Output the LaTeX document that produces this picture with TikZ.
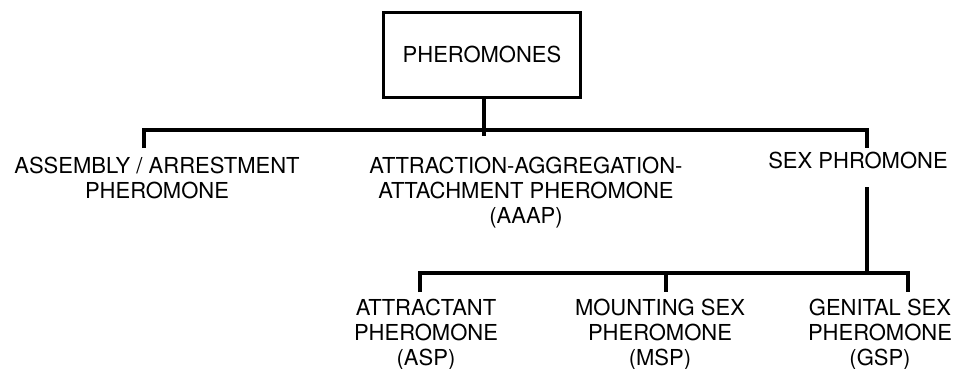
\documentclass[tikz,border=0pt]{standalone}
\usepackage{fontspec}
\setmainfont{TeX Gyre Heros}
\tikzset{
  lbl/.style={align=center, inner sep=0pt, anchor=base, font=\fontsize{22}{25}\selectfont},
  rootbox/.style={draw, line width=3pt, minimum width=197pt, minimum height=85pt, inner sep=0pt, font=\fontsize{22}{25}\selectfont},
  link/.style={line width=3.2pt}
}
\begin{document}
\begin{tikzpicture}[x=1pt,y=-1pt]
\useasboundingbox (0,0) rectangle (956,368);
% root
\node[rootbox] (root) at (482,54.5) {PHEROMONES};
% first level labels (base anchor = baseline of last line)
\node[lbl] (asm) at (157,198) {ASSEMBLY / ARRESTMENT\\PHEROMONE};
\node[lbl] (aaap) at (526,223) {ATTRACTION-AGGREGATION-\\ATTACHMENT PHEROMONE\\(AAAP)};
\node[lbl] (sex) at (858,168) {SEX PHROMONE};
% second level labels
\node[lbl] (asp) at (426,365) {ATTRACTANT\\PHEROMONE\\(ASP)};
\node[lbl] (msp) at (660,365) {MOUNTING SEX\\PHEROMONE\\(MSP)};
\node[lbl] (gsp) at (880,365) {GENITAL SEX\\PHEROMONE\\(GSP)};
% junction coordinates
\coordinate (j0) at (484,130);
\coordinate (s0) at (484,136);
\coordinate (b1) at (144,130);
\coordinate (d1) at (144,148);
\coordinate (b3) at (867,130);
\coordinate (d3) at (867,148);
\coordinate (sx) at (867,187);
\coordinate (j2) at (867,273);
\coordinate (c1) at (420,273);
\coordinate (e1) at (420,292);
\coordinate (c2) at (666,273);
\coordinate (e2) at (666,292);
\coordinate (c3) at (908,273);
\coordinate (e3) at (908,292);
% connectors
\draw[link] (root.south -| j0) -- (s0);
\draw[link] (d1) -- (b1) -- (b3) -- (d3);
\draw[link] (sx) -- (j2);
\draw[link] (e1) -- (c1) -- (c3) -- (e3);
\draw[link] (c2) -- (e2);
\end{tikzpicture}
\end{document}
